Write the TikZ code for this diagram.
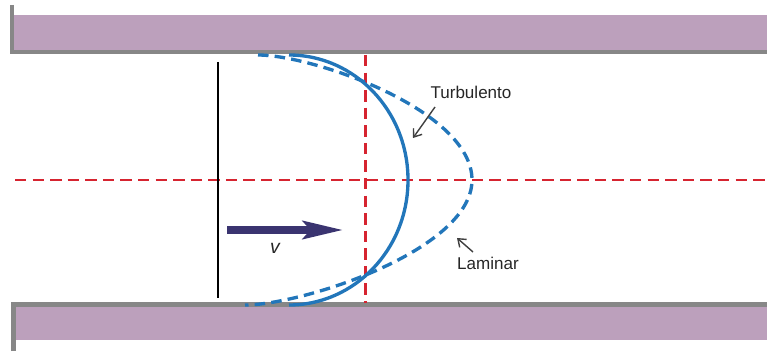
\documentclass[tikz,border=0pt]{standalone}
\usepackage{fontspec}
\setmainfont{Liberation Sans}
\usetikzlibrary{arrows.meta,positioning,calc}

\definecolor{pipewall}{RGB}{188,160,188}
\definecolor{pipeedge}{RGB}{135,135,135}
\definecolor{flowred}{RGB}{214,36,48}
\definecolor{flowblue}{RGB}{34,118,186}
\definecolor{flownavy}{RGB}{58,52,112}

\begin{document}
\begin{tikzpicture}[
    edge/.style={line width=2.3pt, pipeedge},
    axisline/.style={line width=1.7pt, flowred, dash pattern=on 6.5pt off 3.5pt},
    profile/.style={line width=1.9pt, flowblue},
    pointer/.style={line width=0.8pt, black!75, -{Straight Barb[length=4pt,width=6pt]}},
    lbl/.style={font=\fontsize{9.7}{11}\selectfont, text=black!85, inner sep=1pt}
  ]
    \useasboundingbox (0,0) rectangle (15.34,7.02);

    % Pipe walls
    \fill[pipewall] (0.26,6.02) rectangle (15.34,6.72);
    \draw[edge] (0.24,6.92) -- (0.24,5.98) -- (15.34,5.98);
    \fill[pipewall] (0.28,0.22) rectangle (15.34,0.9);
    \draw[edge] (0.27,0) -- (0.27,0.93) -- (15.34,0.93);

    % Axes
    \draw[axisline] (0.3,3.42) -- (15.34,3.42);
    \draw[axisline] (7.3,5.92) -- (7.3,0.96);

    % Reference line
    \draw[line width=1.1pt, black] (4.36,5.78) -- (4.36,1.06);

    % Velocity profiles
    \draw[profile] (5.78,5.92) arc[start angle=90, end angle=-90, x radius=2.38, y radius=2.5];
    \draw[profile, dash pattern=on 6pt off 3.5pt]
        (5.16,5.92) .. controls (6.25,5.92) and (9.44,4.82) .. (9.44,3.42)
                    .. controls (9.44,2.02) and (6.05,0.92) .. (4.9,0.92);

    % Flow velocity
    \node[font=\fontsize{11}{12}\selectfont\itshape, text=black!85] (vlabel) at (5.5,2.06) {v};
    \coordinate (vstart) at (4.54,2.42);
    \coordinate (vend) at (6.86,2.42);
    \draw[line width=4pt, flownavy, -{Stealth[length=0.8cm,width=0.36cm,inset=0.15cm]}] (vstart) -- (vend);

    % Labels
    \node[lbl] (turb) at (9.42,5.18) {Turbulento};
    \node[lbl] (lam) at (9.76,1.76) {Laminar};
    \coordinate (turbtail) at (8.7,4.88);
    \coordinate (turbtip) at (8.26,4.26);
    \coordinate (lamtail) at (9.46,1.98);
    \coordinate (lamtip) at (9.14,2.26);
    \draw[pointer] (turbtail) -- (turbtip);
    \draw[pointer] (lamtail) -- (lamtip);
\end{tikzpicture}
\end{document}
